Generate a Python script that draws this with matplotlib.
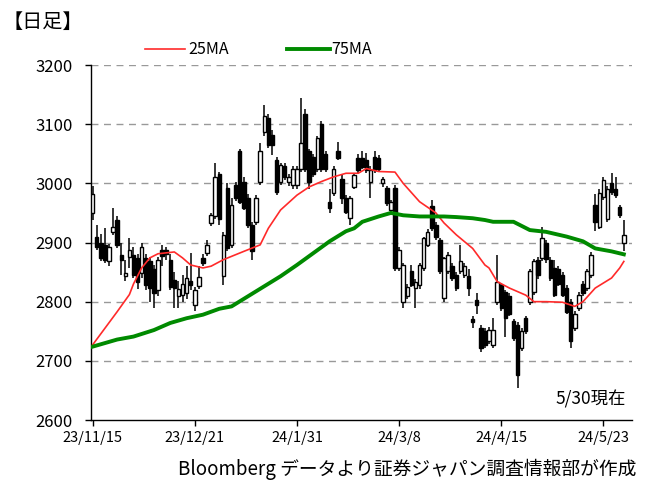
import matplotlib
matplotlib.use("Agg")
import matplotlib.pyplot as plt
import numpy as np

plt.rcParams['font.family'] = ['Noto Sans CJK JP', 'DejaVu Sans']

# ---- data ----
opens = [2950, 2910, 2899, 2896, 2868, 2918, 2938, 2879, 2843, 2876,
         2879, 2873, 2848, 2873, 2868, 2855, 2820, 2888, 2888, 2870,
         2837, 2810, 2812, 2815, 2835, 2795, 2826, 2873, 2882, 2933,
         2944, 3015, 2843, 2992, 2896, 2997, 3054, 3003, 2975, 2930,
         2935, 3003, 3087, 3110, 3082, 3040, 3003, 3030, 3003, 2997,
         2997, 3025, 3118, 3054, 3045, 3025, 3101, 3050, 2969, 2983,
         3054, 3008, 2975, 2941, 2994, 3042, 3042, 3040, 3003, 3045,
         3042, 3000, 2992, 2955, 2992, 2857, 2800, 2810, 2851, 2823,
         2828, 2857, 2896, 2961, 2930, 2904, 2806, 2851, 2860, 2845,
         2851, 2845, 2843, 2770, 2803, 2755, 2750, 2733, 2727, 2800,
         2828, 2817, 2810, 2767, 2761, 2721, 2772, 2800, 2817, 2870,
         2873, 2900, 2870, 2857, 2855, 2845, 2823, 2800, 2755, 2789,
         2830, 2823, 2845, 2964, 2926, 2977, 2940, 3000, 2990, 2960,
         2899]
highs = [2995, 2930, 2915, 2925, 2898, 2958, 2945, 2900, 2870, 2907,
         2893, 2880, 2899, 2880, 2875, 2862, 2875, 2895, 2892, 2880,
         2850, 2835, 2845, 2860, 2882, 2825, 2860, 2880, 2905, 2950,
         3034, 3020, 2918, 3000, 2975, 3002, 3058, 3010, 2982, 2935,
         2980, 3068, 3132, 3118, 3090, 3045, 3035, 3035, 3015, 3030,
         3030, 3144, 3125, 3058, 3050, 3080, 3105, 3055, 2990, 3030,
         3070, 3015, 2980, 2978, 3018, 3050, 3055, 3052, 3030, 3055,
         3048, 3010, 2996, 2972, 2998, 2892, 2866, 2830, 2862, 2838,
         2866, 2910, 2922, 2972, 2935, 2908, 2876, 2884, 2866, 2850,
         2895, 2865, 2855, 2775, 2815, 2760, 2755, 2758, 2772, 2879,
         2832, 2820, 2815, 2770, 2765, 2755, 2776, 2855, 2872, 2875,
         2927, 2904, 2875, 2870, 2860, 2850, 2828, 2805, 2785, 2816,
         2835, 2855, 2884, 2982, 2990, 3010, 2995, 3018, 3010, 2964,
         2938]
lows = [2938, 2888, 2868, 2866, 2860, 2912, 2890, 2845, 2835, 2857,
        2840, 2822, 2840, 2820, 2800, 2790, 2810, 2860, 2870, 2820,
        2790, 2790, 2800, 2805, 2820, 2785, 2822, 2860, 2878, 2928,
        2940, 2930, 2828, 2885, 2890, 2970, 2965, 2955, 2925, 2871,
        2930, 2998, 3080, 3060, 3048, 2980, 2998, 3005, 2995, 2990,
        2990, 3020, 3020, 2990, 3010, 3020, 3020, 3020, 2950, 2978,
        3040, 2965, 2948, 2930, 2990, 3018, 3024, 3018, 2975, 3018,
        3020, 2993, 2962, 2950, 2852, 2852, 2789, 2805, 2825, 2789,
        2822, 2852, 2892, 2920, 2905, 2846, 2800, 2846, 2835, 2818,
        2846, 2840, 2810, 2755, 2780, 2715, 2722, 2728, 2722, 2795,
        2785, 2740, 2775, 2733, 2654, 2716, 2745, 2795, 2812, 2838,
        2868, 2866, 2835, 2808, 2826, 2808, 2780, 2721, 2750, 2785,
        2810, 2818, 2840, 2920, 2922, 2972, 2935, 2980, 2976, 2942,
        2885]
closes = [2982, 2893, 2873, 2871, 2893, 2926, 2896, 2871, 2848, 2887,
          2845, 2834, 2893, 2829, 2823, 2815, 2870, 2878, 2880, 2825,
          2823, 2822, 2830, 2840, 2828, 2820, 2842, 2865, 2896, 2947,
          3010, 2940, 2913, 2890, 2964, 2975, 2969, 2958, 2930, 2885,
          2975, 3054, 3113, 3065, 3065, 2986, 3031, 3010, 3011, 3025,
          3025, 3068, 3025, 3003, 3015, 3076, 3025, 3025, 2958, 3025,
          3042, 2975, 2952, 2975, 3014, 3022, 3028, 3022, 3022, 3022,
          3025, 3007, 2966, 2969, 2857, 2888, 2862, 2825, 2828, 2834,
          2862, 2907, 2918, 2924, 2910, 2851, 2873, 2879, 2840, 2823,
          2868, 2860, 2823, 2765, 2795, 2721, 2727, 2752, 2752, 2834,
          2789, 2772, 2780, 2738, 2676, 2750, 2750, 2851, 2868, 2845,
          2907, 2872, 2840, 2812, 2830, 2812, 2783, 2733, 2780, 2812,
          2815, 2851, 2879, 2935, 2983, 3006, 2990, 2985, 2980, 2946,
          2912]

ma25_idx = [0, 3, 6, 9, 10, 12, 14, 16, 20, 22, 24, 27, 29, 32, 37, 41, 43, 46,
            50, 53, 56, 59, 62, 65, 67, 70, 74, 76, 80, 84, 86, 89, 93, 96, 97,
            99, 102, 106, 108, 111, 115, 118, 120, 123, 127, 129, 130]
ma25_val = [2727, 2755, 2783, 2812, 2830, 2857, 2874, 2881, 2884, 2874, 2862,
            2857, 2860, 2871, 2885, 2896, 2924, 2955, 2980, 2994, 3003, 3011,
            3017, 3017, 3025, 3020, 3019, 3000, 2969, 2950, 2933, 2913, 2890,
            2862, 2857, 2834, 2823, 2811, 2800, 2800, 2799, 2792, 2800, 2823,
            2840, 2857, 2868]

ma75_idx = [0, 6, 10, 15, 19, 23, 27, 31, 34, 38, 42, 46, 50, 54, 58, 62, 64,
            66, 70, 73, 76, 80, 83, 86, 89, 93, 96, 98, 103, 107, 111, 116, 120,
            123, 127, 130]
ma75_val = [2724, 2736, 2741, 2752, 2764, 2772, 2778, 2788, 2792, 2809, 2826,
            2843, 2862, 2882, 2902, 2919, 2924, 2935, 2944, 2950, 2946, 2944,
            2944, 2944, 2943, 2941, 2938, 2935, 2935, 2921, 2918, 2910, 2902,
            2890, 2885, 2880]

tick_pos = [0, 25, 50, 75, 100, 125]
tick_labels = ["23/11/15", "23/12/21", "24/1/31", "24/3/8", "24/4/15", "24/5/23"]
y_ticks = [2600, 2700, 2800, 2900, 3000, 3100, 3200]

# ---- figure ----
W, H = 656, 482
fig = plt.figure(figsize=(W / 100, H / 100), dpi=100)
ax = fig.add_axes([91 / W, 1 - 420 / H, (632 - 91) / W, (420 - 65) / H])

x = np.arange(len(closes))
o = np.array(opens, float)
c = np.array(closes, float)
h = np.array(highs, float)
l = np.array(lows, float)

ax.vlines(x, l, h, color='black', linewidth=1.1, zorder=3)
up = c >= o
bottoms = np.minimum(o, c)
heights = np.maximum(np.abs(c - o), 2)
colors = ['white' if u else 'black' for u in up]
ax.bar(x, heights, bottom=bottoms, width=0.85, color=colors,
       edgecolor='black', linewidth=1.0, zorder=4)

ax.plot(ma25_idx, ma25_val, color='#ff2a2a', linewidth=1.2, zorder=5)
ax.plot(ma75_idx, ma75_val, color='#008a00', linewidth=2.8, zorder=5,
        solid_joinstyle='round')

ax.set_xlim(-0.4, 132)
ax.set_ylim(2600, 3200)
ax.set_yticks(y_ticks)
ax.set_xticks(tick_pos)
ax.set_xticklabels(tick_labels)

for yv in y_ticks[1:]:
    ax.axhline(yv, color='#999999', linestyle=(0, (5, 4)), linewidth=1.0, zorder=1)

for s in ['top', 'right']:
    ax.spines[s].set_visible(False)
for s in ['left', 'bottom']:
    ax.spines[s].set_color('black')
    ax.spines[s].set_linewidth(1.0)
ax.tick_params(axis='y', length=4, width=1, pad=9, labelsize=12)
ax.tick_params(axis='x', length=4, width=1, pad=4, labelsize=10.5)

# texts
fig.text(3 / W, 1 - 22 / H, "【日足】", fontsize=14.5, va='center', ha='left')
fig.lines.append(plt.Line2D([145 / W, 185 / W], [1 - 49 / H, 1 - 49 / H],
                            color='#ff2a2a', linewidth=1.2, transform=fig.transFigure))
fig.text(188 / W, 1 - 49 / H, "25MA", fontsize=11.5, va='center', ha='left')
fig.lines.append(plt.Line2D([287 / W, 330 / W], [1 - 49 / H, 1 - 49 / H],
                            color='#008a00', linewidth=2.8, transform=fig.transFigure))
fig.text(331 / W, 1 - 49 / H, "75MA", fontsize=11.5, va='center', ha='left')
fig.text(626 / W, 1 - 399 / H, "5/30現在", fontsize=12.5, va='center', ha='right')
fig.text(636 / W, 1 - 469 / H, "Bloomberg データより証券ジャパン調査情報部が作成",
         fontsize=13.5, va='center', ha='right')

fig.savefig("out.png", dpi=100, facecolor='white')
